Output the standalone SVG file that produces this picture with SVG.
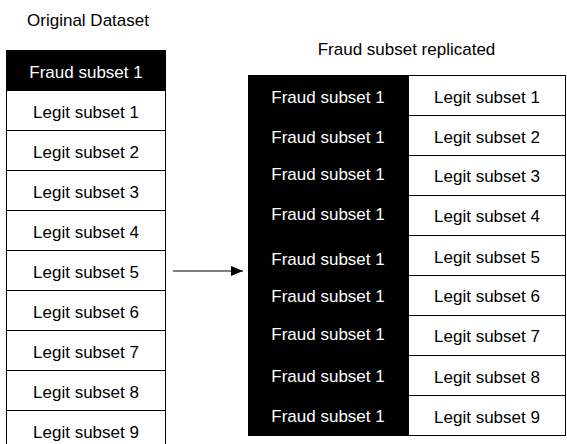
<svg xmlns="http://www.w3.org/2000/svg" width="567" height="444" viewBox="0 0 567 444">
  <style>
    text { font-family: "Liberation Sans", Arial, sans-serif; font-size: 17px; text-anchor: middle; }
    .title { fill: #000; }
    .fraud rect { fill: #000; stroke: #000; stroke-width: 1; }
    .fraud text { fill: #fff; }
    .legit rect { fill: #fff; stroke: #000; stroke-width: 1; }
    .legit text { fill: #000; }
    .link { stroke: #000; stroke-width: 1; fill: none; }
  </style>
  <defs>
    <marker id="arrowhead" markerWidth="12" markerHeight="10" refX="12" refY="5" orient="auto" markerUnits="userSpaceOnUse">
      <path d="M0,0 L12,5 L0,10 Z" fill="#000"/>
    </marker>
  </defs>
  <rect width="567" height="444" fill="#fff"/>

  <!-- headings -->
  <text class="title" x="88" y="26">Original Dataset</text>
  <text class="title" x="406.5" y="55">Fraud subset replicated</text>

  <!-- original dataset column -->
  <g id="orig">
    <g id="orig-fraud1" class="fraud"><rect x="6.5" y="50.5" width="159" height="40"/><text x="86" y="78">Fraud subset 1</text></g>
    <g id="orig-legit1" class="legit"><rect x="6.5" y="90.5" width="159" height="40"/><text x="86" y="117.5">Legit subset 1</text></g>
    <g id="orig-legit2" class="legit"><rect x="6.5" y="130.5" width="159" height="40"/><text x="86" y="157.5">Legit subset 2</text></g>
    <g id="orig-legit3" class="legit"><rect x="6.5" y="170.5" width="159" height="40"/><text x="86" y="197.5">Legit subset 3</text></g>
    <g id="orig-legit4" class="legit"><rect x="6.5" y="210.5" width="159" height="40"/><text x="86" y="237.5">Legit subset 4</text></g>
    <g id="orig-legit5" class="legit"><rect x="6.5" y="250.5" width="159" height="40"/><text x="86" y="277.5">Legit subset 5</text></g>
    <g id="orig-legit6" class="legit"><rect x="6.5" y="290.5" width="159" height="40"/><text x="86" y="317.5">Legit subset 6</text></g>
    <g id="orig-legit7" class="legit"><rect x="6.5" y="330.5" width="159" height="40"/><text x="86" y="357.5">Legit subset 7</text></g>
    <g id="orig-legit8" class="legit"><rect x="6.5" y="370.5" width="159" height="40"/><text x="86" y="397.5">Legit subset 8</text></g>
    <g id="orig-legit9" class="legit"><rect x="6.5" y="410.5" width="159" height="40"/><text x="86" y="437.5">Legit subset 9</text></g>
  </g>

  <!-- replicated table: fraud column -->
  <g id="rep-fraud">
    <g id="rep-fraud1" class="fraud"><rect x="248.5" y="75.5" width="159" height="40"/><text x="328" y="102.5">Fraud subset 1</text></g>
    <g id="rep-fraud2" class="fraud"><rect x="248.5" y="115.5" width="159" height="40"/><text x="328" y="142.5">Fraud subset 1</text></g>
    <g id="rep-fraud3" class="fraud"><rect x="248.5" y="155.5" width="159" height="40"/><text x="328" y="180">Fraud subset 1</text></g>
    <g id="rep-fraud4" class="fraud"><rect x="248.5" y="195.5" width="159" height="40"/><text x="328" y="220">Fraud subset 1</text></g>
    <g id="rep-fraud5" class="fraud"><rect x="248.5" y="235.5" width="159" height="40"/><text x="328" y="265">Fraud subset 1</text></g>
    <g id="rep-fraud6" class="fraud"><rect x="248.5" y="275.5" width="159" height="40"/><text x="328" y="302">Fraud subset 1</text></g>
    <g id="rep-fraud7" class="fraud"><rect x="248.5" y="315.5" width="159" height="40"/><text x="328" y="340">Fraud subset 1</text></g>
    <g id="rep-fraud8" class="fraud"><rect x="248.5" y="355.5" width="159" height="40"/><text x="328" y="382">Fraud subset 1</text></g>
    <g id="rep-fraud9" class="fraud"><rect x="248.5" y="395.5" width="159" height="40"/><text x="328" y="422">Fraud subset 1</text></g>
  </g>

  <!-- replicated table: legit column -->
  <g id="rep-legit">
    <g id="rep-legit1" class="legit"><rect x="408.5" y="75.5" width="157" height="40"/><text x="487" y="102.5">Legit subset 1</text></g>
    <g id="rep-legit2" class="legit"><rect x="408.5" y="115.5" width="157" height="40"/><text x="487" y="142.5">Legit subset 2</text></g>
    <g id="rep-legit3" class="legit"><rect x="408.5" y="155.5" width="157" height="40"/><text x="487" y="182">Legit subset 3</text></g>
    <g id="rep-legit4" class="legit"><rect x="408.5" y="195.5" width="157" height="40"/><text x="487" y="222">Legit subset 4</text></g>
    <g id="rep-legit5" class="legit"><rect x="408.5" y="235.5" width="157" height="40"/><text x="487" y="262.5">Legit subset 5</text></g>
    <g id="rep-legit6" class="legit"><rect x="408.5" y="275.5" width="157" height="40"/><text x="487" y="302">Legit subset 6</text></g>
    <g id="rep-legit7" class="legit"><rect x="408.5" y="315.5" width="157" height="40"/><text x="487" y="342">Legit subset 7</text></g>
    <g id="rep-legit8" class="legit"><rect x="408.5" y="355.5" width="157" height="40"/><text x="487" y="382.5">Legit subset 8</text></g>
    <g id="rep-legit9" class="legit"><rect x="408.5" y="395.5" width="157" height="40"/><text x="487" y="422.5">Legit subset 9</text></g>
  </g>

  <!-- connectors -->
  <g id="connectors">
    <line class="link" x1="173" y1="271" x2="243" y2="271" marker-end="url(#arrowhead)"/>
  </g>
</svg>
